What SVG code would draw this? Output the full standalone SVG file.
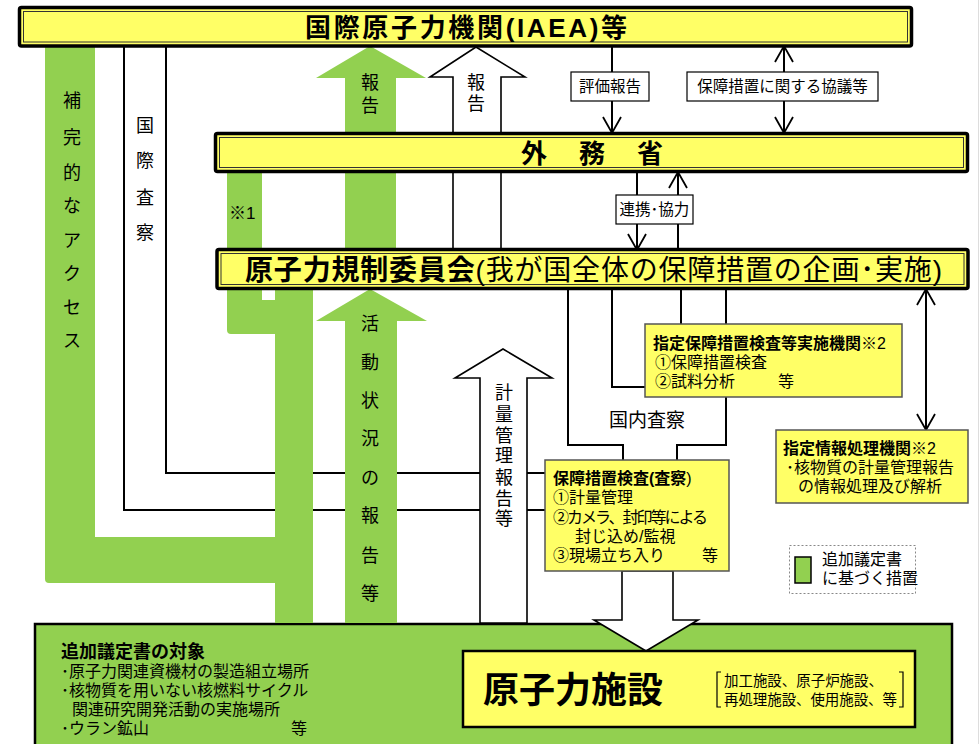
<svg xmlns="http://www.w3.org/2000/svg" width="980" height="744" viewBox="0 0 980 744">
<defs>
<style>
text{font-family:"Liberation Sans","Noto Sans CJK JP",sans-serif;fill:#000;}
.b{font-weight:bold;}
.f15{font-size:15.5px;}
.f16{font-size:16px;}
.f19{font-size:19px;}
.vt{font-size:18px;text-anchor:middle;}
.ln{fill:none;stroke:#000;stroke-width:2;}
.lbl{fill:#fff;stroke:#000;stroke-width:1.2;}
.grn{fill:#92D050;}
.wa{fill:#fff;stroke:#000;stroke-width:1.6;}
.yb{fill:#FFFF66;stroke:#000;stroke-width:3.5;}
.yi{fill:none;stroke:#333;stroke-width:1;}
.ys{fill:#FFFF66;stroke:#555;stroke-width:1.5;}
</style>
<marker id="ah" viewBox="0 0 18 20" refX="17" refY="10" markerWidth="18" markerHeight="20" markerUnits="userSpaceOnUse" orient="auto-start-reverse" overflow="visible">
<path d="M1,1 L17,10 L1,19" fill="none" stroke="#000" stroke-width="1.8"/>
</marker>
</defs>
<rect width="980" height="744" fill="#fff"/>
<line x1="978.5" y1="0" x2="978.5" y2="744" stroke="#ddd" stroke-width="1"/>

<g id="target-area">
<rect x="35" y="624" width="917" height="130" fill="#92D050" stroke="#000" stroke-width="2.5"/>
<text class="b" x="61" y="658" font-size="18">追加議定書の対象</text>
<text class="f16" x="61" y="677">･原子力関連資機材の製造組立場所</text>
<text class="f16" x="61" y="696">･核物質を用いない核燃料サイクル</text>
<text class="f16" x="72" y="715">関連研究開発活動の実施場所</text>
<text class="f16" x="61" y="734">･ウラン鉱山<tspan x="291">等</tspan></text>
</g>

<g id="connectors">
<polyline class="ln" points="166,46 166,473 545,473"/>
<polyline class="ln" points="124,46 124,510 545,510"/>
<line class="ln" x1="612" y1="46" x2="612" y2="133" marker-end="url(#ah)"/>
<line class="ln" x1="784" y1="46" x2="784" y2="133" marker-start="url(#ah)" marker-end="url(#ah)"/>
<line class="ln" x1="637" y1="172" x2="637" y2="250" marker-end="url(#ah)"/>
<line class="ln" x1="678" y1="250" x2="678" y2="172" marker-end="url(#ah)"/>
<polyline class="ln" points="612,289 612,387 645,387"/>
<line class="ln" x1="681" y1="289" x2="681" y2="324"/>
<polyline class="ln" points="568,289 568,445 623,445 623,460"/>
<polyline class="ln" points="726,289 726,445 677,445 677,460"/>
<line class="ln" x1="926" y1="289" x2="926" y2="430" marker-start="url(#ah)" marker-end="url(#ah)"/>
<rect class="lbl" x="571" y="72" width="78" height="29"/>
<text class="f15" x="610" y="92" text-anchor="middle">評価報告</text>
<rect class="lbl" x="687" y="72" width="191" height="29"/>
<text class="f15" x="782.5" y="92" text-anchor="middle">保障措置に関する協議等</text>
<rect class="lbl" x="616" y="195" width="77" height="29"/>
<text class="f15" x="654.5" y="215" text-anchor="middle">連携･協力</text>
<text class="f19" x="647" y="427" text-anchor="middle">国内査察</text>
</g>

<g id="arrows">
<path class="grn" d="M45,46 H95 V537 H275 V583 H49 Q45,583 45,579 Z"/>
<path class="grn" d="M227,172 H262 V300 H275 V289 H313 V623 H275 V334 H231 Q227,334 227,330 Z"/>
<polygon class="grn" points="345,250 345,78 316,78 370,46 426,78 396,78 396,250"/>
<polygon class="grn" points="345,623 345,321 316,321 370,289 427,321 397,321 397,623"/>
<polygon class="wa" points="453,250 453,77 430,77 476,47 525,77 501,77 501,250"/>
<polygon class="wa" points="480,623 480,378 455,378 503,349 552,378 527,378 527,623"/>
<polygon class="wa" points="622,571 622,620 594,620 646,651 698,620 673,620 673,571"/>
<text class="vt"><tspan x="72" y="107">補</tspan><tspan x="72" y="144">完</tspan><tspan x="72" y="179">的</tspan><tspan x="72" y="212">な</tspan><tspan x="72" y="247">ア</tspan><tspan x="72" y="280">ク</tspan><tspan x="72" y="314">セ</tspan><tspan x="72" y="347">ス</tspan></text>
<text class="vt"><tspan x="145" y="132">国</tspan><tspan x="145" y="167">際</tspan><tspan x="145" y="204">査</tspan><tspan x="145" y="239">察</tspan></text>
<text x="229" y="219" font-size="17">※1</text>
<text class="vt"><tspan x="370" y="89">報</tspan><tspan x="370" y="112">告</tspan></text>
<text class="vt"><tspan x="476" y="89">報</tspan><tspan x="476" y="110">告</tspan></text>
<text class="vt"><tspan x="370" y="330">活</tspan><tspan x="370" y="369">動</tspan><tspan x="370" y="407">状</tspan><tspan x="370" y="445">況</tspan><tspan x="370" y="484">の</tspan><tspan x="370" y="522">報</tspan><tspan x="370" y="562">告</tspan><tspan x="370" y="600">等</tspan></text>
<text class="vt"><tspan x="504" y="399">計</tspan><tspan x="504" y="421">量</tspan><tspan x="504" y="442">管</tspan><tspan x="504" y="462">理</tspan><tspan x="504" y="484">報</tspan><tspan x="504" y="505">告</tspan><tspan x="504" y="525">等</tspan></text>
</g>

<g id="iaea">
<rect class="yb" x="19.5" y="7.5" width="892" height="38.5" rx="2"/>
<rect class="yi" x="23.5" y="11.5" width="884" height="30.5"/>
<text class="b" x="466" y="37" font-size="26" text-anchor="middle" textLength="322">国際原子力機関(IAEA)等</text>
</g>

<g id="mofa">
<rect class="yb" x="215.5" y="133.5" width="752" height="38" rx="2"/>
<rect class="yi" x="219.5" y="137.5" width="744" height="30"/>
<text class="b" x="592" y="163" font-size="26" text-anchor="middle" textLength="142">外　務　省</text>
</g>

<g id="nra">
<rect class="yb" x="217" y="249.5" width="751" height="39" rx="2"/>
<rect class="yi" x="221" y="253.5" width="743" height="31"/>
<text x="245" y="280" font-size="28" textLength="697"><tspan class="b">原子力規制委員会</tspan>(我が国全体の保障措置の企画･実施)</text>
</g>

<g id="designated-inspection">
<rect class="ys" x="645" y="324" width="257" height="73"/>
<text class="f16" x="653" y="349"><tspan class="b">指定保障措置検査等実施機関</tspan>※2</text>
<text class="f16" x="655" y="368">①保障措置検査</text>
<text class="f16" x="655" y="387">②試料分析<tspan x="778">等</tspan></text>
</g>

<g id="designated-info">
<rect class="ys" x="776" y="430" width="192" height="73"/>
<text class="f16" x="783" y="454"><tspan class="b">指定情報処理機関※</tspan>2</text>
<text class="f16" x="786" y="473">･核物質の計量管理報告</text>
<text class="f16" x="798" y="492">の情報処理及び解析</text>
</g>

<g id="inspection">
<rect class="ys" x="545" y="460" width="184" height="111" stroke-width="1.2"/>
<text class="f16" x="553" y="484"><tspan class="b">保障措置検査(査察</tspan>)</text>
<text class="f16" x="553" y="503">①計量管理</text>
<text class="f16" x="553" y="523" textLength="155">②カメラ、封印等による</text>
<text class="f16" x="575" y="542">封じ込め/監視</text>
<text class="f16" x="553" y="561">③現場立ち入り<tspan x="702">等</tspan></text>
</g>

<g id="legend">
<rect x="789.5" y="545.5" width="126" height="48" fill="#fff" stroke="#888" stroke-width="1" stroke-dasharray="2,2"/>
<rect x="795" y="557" width="16" height="26" fill="#92D050" stroke="#000" stroke-width="1.5"/>
<text class="f16" x="822" y="565">追加議定書</text>
<text class="f16" x="822" y="584">に基づく措置</text>
</g>

<g id="facility">
<rect x="463" y="651" width="452" height="76" fill="#FFFF66" stroke="#000" stroke-width="2.5"/>
<text class="b" x="483" y="703" font-size="36">原子力施設</text>
<path d="M721,672 H717 V707 H721 M899,672 H903 V707 H899" fill="none" stroke="#000" stroke-width="1.2"/>
<text x="724" y="686" font-size="14.5" textLength="159">加工施設、原子炉施設、</text>
<text x="724" y="705" font-size="14.5" textLength="173">再処理施設、使用施設、等</text>
</g>
</svg>
